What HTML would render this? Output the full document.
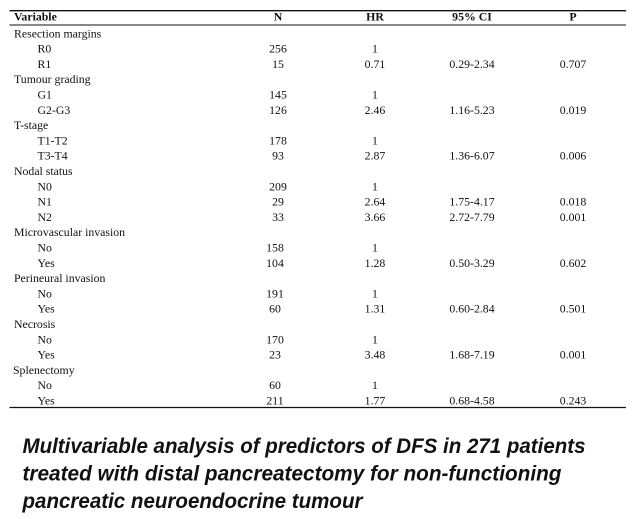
<!DOCTYPE html>
<html>
<head>
<meta charset="utf-8">
<style>
html,body{margin:0;padding:0;background:#fff;}
svg{display:block;}
.t{font-family:"Liberation Serif",serif;font-size:11.8px;fill:#111;}
.h{font-family:"Liberation Serif",serif;font-size:11.8px;font-weight:bold;fill:#111;}
.c{font-family:"Liberation Sans",sans-serif;font-size:21px;font-weight:bold;font-style:italic;fill:#111;}
</style>
</head>
<body>
<svg width="642" height="519" viewBox="0 0 642 519" xmlns="http://www.w3.org/2000/svg">
<rect width="642" height="519" fill="#fff"/>
<line x1="9.5" y1="10.7" x2="626" y2="10.7" stroke="#111" stroke-width="1.3"/>
<line x1="9.5" y1="25" x2="626" y2="25" stroke="#111" stroke-width="1.1"/>
<line x1="9.5" y1="407.5" x2="626" y2="407.5" stroke="#111" stroke-width="1.2"/>

<text class="h" x="14" y="20.7">Variable</text>
<text class="h" x="278" y="20.7" text-anchor="middle">N</text>
<text class="h" x="375" y="20.7" text-anchor="middle">HR</text>
<text class="h" x="472" y="20.7" text-anchor="middle">95% CI</text>
<text class="h" x="573" y="20.7" text-anchor="middle">P</text>

<g class="t">
<text x="14" y="37.3">Resection margins</text>
<text x="37.5" y="52.6">R0</text><text x="278" y="52.6" text-anchor="middle">256</text><text x="375" y="52.6" text-anchor="middle">1</text>
<text x="37.5" y="67.9">R1</text><text x="278" y="67.9" text-anchor="middle">15</text><text x="375" y="67.9" text-anchor="middle">0.71</text><text x="472" y="67.9" text-anchor="middle">0.29-2.34</text><text x="573" y="67.9" text-anchor="middle">0.707</text>
<text x="14" y="83.2">Tumour grading</text>
<text x="37.5" y="98.5">G1</text><text x="278" y="98.5" text-anchor="middle">145</text><text x="375" y="98.5" text-anchor="middle">1</text>
<text x="37.5" y="113.8">G2-G3</text><text x="278" y="113.8" text-anchor="middle">126</text><text x="375" y="113.8" text-anchor="middle">2.46</text><text x="472" y="113.8" text-anchor="middle">1.16-5.23</text><text x="573" y="113.8" text-anchor="middle">0.019</text>
<text x="14" y="129.1">T-stage</text>
<text x="37.5" y="144.4">T1-T2</text><text x="278" y="144.4" text-anchor="middle">178</text><text x="375" y="144.4" text-anchor="middle">1</text>
<text x="37.5" y="159.7">T3-T4</text><text x="278" y="159.7" text-anchor="middle">93</text><text x="375" y="159.7" text-anchor="middle">2.87</text><text x="472" y="159.7" text-anchor="middle">1.36-6.07</text><text x="573" y="159.7" text-anchor="middle">0.006</text>
<text x="14" y="175.0">Nodal status</text>
<text x="37.5" y="190.3">N0</text><text x="278" y="190.3" text-anchor="middle">209</text><text x="375" y="190.3" text-anchor="middle">1</text>
<text x="37.5" y="205.6">N1</text><text x="278" y="205.6" text-anchor="middle">29</text><text x="375" y="205.6" text-anchor="middle">2.64</text><text x="472" y="205.6" text-anchor="middle">1.75-4.17</text><text x="573" y="205.6" text-anchor="middle">0.018</text>
<text x="37.5" y="220.9">N2</text><text x="278" y="220.9" text-anchor="middle">33</text><text x="375" y="220.9" text-anchor="middle">3.66</text><text x="472" y="220.9" text-anchor="middle">2.72-7.79</text><text x="573" y="220.9" text-anchor="middle">0.001</text>
<text x="14" y="236.2">Microvascular invasion</text>
<text x="37.5" y="251.5">No</text><text x="275" y="251.5" text-anchor="middle">158</text><text x="375" y="251.5" text-anchor="middle">1</text>
<text x="37.5" y="266.8">Yes</text><text x="275" y="266.8" text-anchor="middle">104</text><text x="375" y="266.8" text-anchor="middle">1.28</text><text x="472" y="266.8" text-anchor="middle">0.50-3.29</text><text x="573" y="266.8" text-anchor="middle">0.602</text>
<text x="14" y="282.1">Perineural invasion</text>
<text x="37.5" y="297.4">No</text><text x="275" y="297.4" text-anchor="middle">191</text><text x="375" y="297.4" text-anchor="middle">1</text>
<text x="37.5" y="312.7">Yes</text><text x="275" y="312.7" text-anchor="middle">60</text><text x="375" y="312.7" text-anchor="middle">1.31</text><text x="472" y="312.7" text-anchor="middle">0.60-2.84</text><text x="573" y="312.7" text-anchor="middle">0.501</text>
<text x="14" y="328.0">Necrosis</text>
<text x="37.5" y="343.3">No</text><text x="275" y="343.3" text-anchor="middle">170</text><text x="375" y="343.3" text-anchor="middle">1</text>
<text x="37.5" y="358.6">Yes</text><text x="275" y="358.6" text-anchor="middle">23</text><text x="375" y="358.6" text-anchor="middle">3.48</text><text x="472" y="358.6" text-anchor="middle">1.68-7.19</text><text x="573" y="358.6" text-anchor="middle">0.001</text>
<text x="13" y="373.9">Splenectomy</text>
<text x="37.5" y="389.2">No</text><text x="275" y="389.2" text-anchor="middle">60</text><text x="375" y="389.2" text-anchor="middle">1</text>
<text x="37.5" y="404.5">Yes</text><text x="275" y="404.5" text-anchor="middle">211</text><text x="375" y="404.5" text-anchor="middle">1.77</text><text x="472" y="404.5" text-anchor="middle">0.68-4.58</text><text x="573" y="404.5" text-anchor="middle">0.243</text>
</g>

<text class="c" x="22.5" y="453" textLength="563" lengthAdjust="spacingAndGlyphs">Multivariable analysis of predictors of DFS in 271 patients</text>
<text class="c" x="22.5" y="480.5" textLength="539" lengthAdjust="spacingAndGlyphs">treated with distal pancreatectomy for non-functioning</text>
<text class="c" x="22.5" y="508" textLength="340" lengthAdjust="spacingAndGlyphs">pancreatic neuroendocrine tumour</text>
</svg>
</body>
</html>
